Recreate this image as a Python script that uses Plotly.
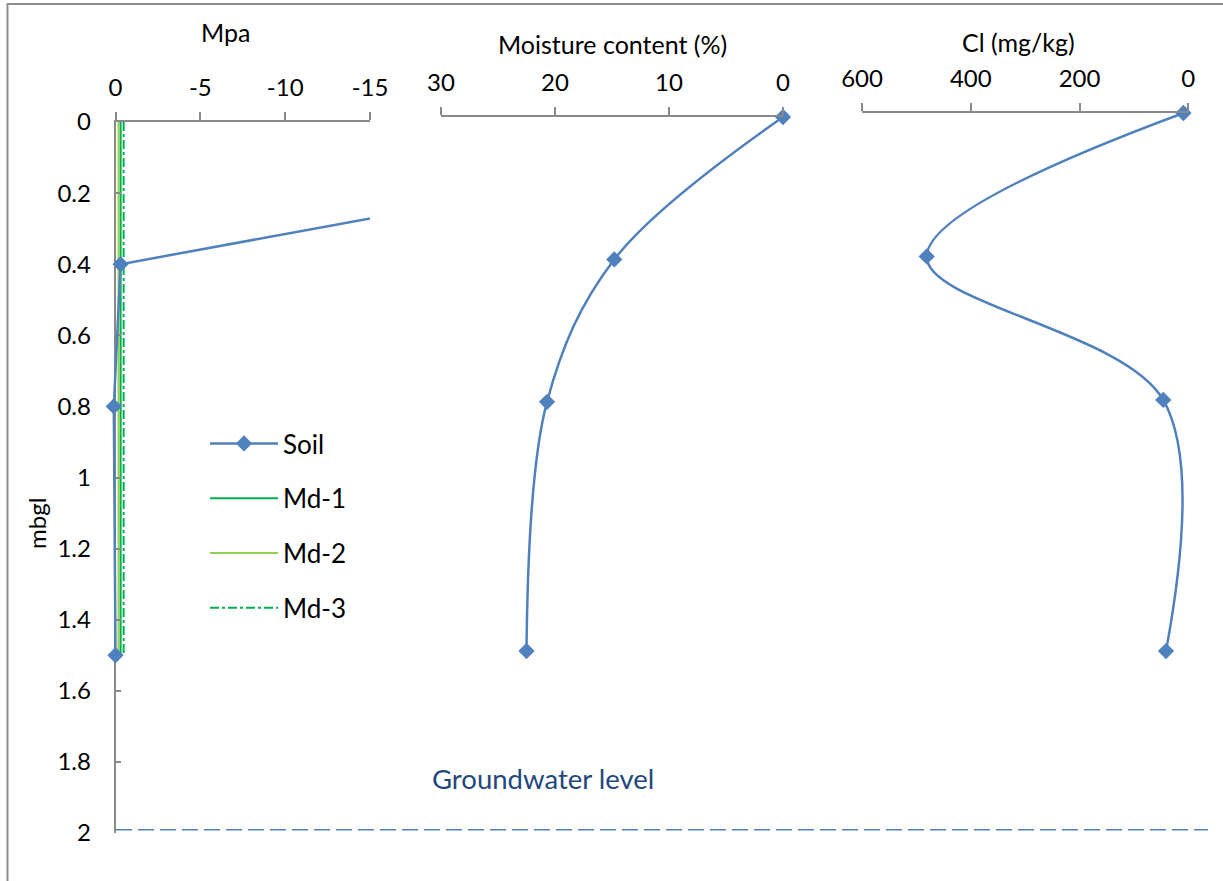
import plotly.graph_objects as go

# ---- data -------------------------------------------------------------
depth = [0.0, 0.4, 0.8, 1.5]                 # sampling depth, m below ground level
soil_mpa = [-46.0, -0.3, 0.1, 0.0]           # soil water potential, MPa
md1_mpa = [-0.3, -0.3, -0.3, -0.3]
md2_mpa = [-0.18, -0.18, -0.18, -0.18]
md3_mpa = [-0.48, -0.48, -0.48, -0.48]
moisture = [0.0, 14.8, 20.7, 22.5]           # moisture content, %
chloride = [9, 481, 46, 41]                  # Cl, mg/kg

mpa_ticks = [0, -5, -10, -15]
mpa_labels = ["0", "-5", "-10", "-15"]
moisture_ticks = [30, 20, 10, 0]
cl_ticks = [600, 400, 200, 0]
depth_ticks = [0, 0.2, 0.4, 0.6, 0.8, 1.0, 1.2, 1.4, 1.6, 1.8, 2.0]
depth_labels = ["0", "0.2", "0.4", "0.6", "0.8", "1", "1.2", "1.4", "1.6", "1.8", "2"]
groundwater_depth = 2.0

# ---- styling ------------------------------------------------------------
W, H = 1223, 881
FONT = "Lato"
AXIS_GREY = "#898989"
BLUE = "#4F81BD"
GREEN = "#00B050"
LIGHT_GREEN = "#92D050"
MARKER_SIZE = 12.5

# left panel geometry (pixels)
MPA_X0, MPA_X15 = 115.5, 370.0
MPA_PX_PER_UNIT = (MPA_X15 - MPA_X0) / 15.0
SOIL_PAD = 1.0   # extra MPa room on the wet side so the near-zero markers are not cut


def fx(px):
    return px / W


def fy(py):
    return 1 - py / H


fig = go.Figure()

# Soil water potential, on a hidden axis sharing the Mpa scale but reaching a bit past 0
fig.add_trace(go.Scatter(
    x=soil_mpa, y=depth, xaxis="x4", yaxis="y", mode="lines+markers",
    name="Soil", legendgroup="soil",
    line=dict(color=BLUE, width=2.5),
    marker=dict(symbol="diamond", size=MARKER_SIZE, color=BLUE)))

fig.add_trace(go.Scatter(
    x=md1_mpa, y=depth, xaxis="x", yaxis="y", mode="lines", name="Md-1",
    legendgroup="md1", line=dict(color=GREEN, width=2)))
fig.add_trace(go.Scatter(
    x=md2_mpa, y=depth, xaxis="x", yaxis="y", mode="lines", name="Md-2",
    legendgroup="md2", line=dict(color=LIGHT_GREEN, width=2)))
fig.add_trace(go.Scatter(
    x=md3_mpa, y=depth, xaxis="x", yaxis="y", mode="lines", name="Md-3",
    legendgroup="md3", line=dict(color=GREEN, width=2, dash="dashdot")))

# Moisture content profile
fig.add_trace(go.Scatter(
    x=moisture, y=depth, xaxis="x2", yaxis="y2", mode="lines+markers",
    line=dict(color=BLUE, width=2.5, shape="spline", smoothing=1),
    marker=dict(symbol="diamond", size=MARKER_SIZE, color=BLUE),
    cliponaxis=False, showlegend=False))

# Chloride profile
fig.add_trace(go.Scatter(
    x=chloride, y=depth, xaxis="x3", yaxis="y3", mode="lines+markers",
    line=dict(color=BLUE, width=2.5, shape="spline", smoothing=1),
    marker=dict(symbol="diamond", size=MARKER_SIZE, color=BLUE),
    cliponaxis=False, showlegend=False))

tickfont = dict(family=FONT, size=24, color="black")
top_axis = dict(
    side="top", showline=True, linecolor=AXIS_GREY, linewidth=1.5,
    ticks="outside", ticklen=8, tickwidth=1.5, tickcolor=AXIS_GREY,
    showgrid=False, zeroline=False, tickfont=tickfont, ticklabelstandoff=7,
    automargin=False, fixedrange=True)

fig.update_layout(
    template="none",
    width=W, height=H,
    margin=dict(l=0, r=0, t=0, b=0, pad=0, autoexpand=False),
    paper_bgcolor="white", plot_bgcolor="rgba(0,0,0,0)",
    font=dict(family=FONT, size=24, color="black"),
    xaxis=dict(top_axis, domain=[fx(MPA_X0), fx(MPA_X15)], range=[0, -15],
               tickvals=mpa_ticks, ticktext=mpa_labels, anchor="y"),
    xaxis4=dict(domain=[fx(MPA_X0 - SOIL_PAD * MPA_PX_PER_UNIT), fx(MPA_X15)],
                range=[SOIL_PAD, -15], anchor="y",
                visible=False, automargin=False, fixedrange=True),
    yaxis=dict(domain=[fy(833), fy(122)], range=[2, 0], anchor="x",
               tickvals=depth_ticks, ticktext=depth_labels,
               showline=True, linecolor=AXIS_GREY, linewidth=1.5,
               ticks="inside", ticklen=6, tickwidth=1.5, tickcolor=AXIS_GREY,
               showgrid=False, zeroline=False, tickfont=tickfont,
               ticklabelstandoff=18, automargin=False, fixedrange=True),
    xaxis2=dict(top_axis, domain=[fx(441), fx(783)], range=[30, 0],
                tickvals=moisture_ticks, anchor="y2"),
    yaxis2=dict(domain=[fy(117 + 2 * 356), fy(117)], range=[2, 0],
                anchor="x2", visible=False, automargin=False, fixedrange=True),
    xaxis3=dict(top_axis, domain=[fx(862), fx(1188.3)], range=[600, 0],
                tickvals=cl_ticks, anchor="y3"),
    yaxis3=dict(domain=[fy(113 + 2 * 358.7), fy(113)], range=[2, 0],
                anchor="x3", visible=False, automargin=False, fixedrange=True),
    legend=dict(x=fx(205), y=fy(420), xanchor="left", yanchor="top",
                font=dict(family=FONT, size=26, color="black"),
                bgcolor="rgba(0,0,0,0)", tracegroupgap=18, itemwidth=68),
    showlegend=True,
)

annot_font = dict(family=FONT, size=25, color="black")
for text, x, y in [("Mpa", 225, 32), ("Moisture content (%)", 612, 44),
                   ("Cl (mg/kg)", 1018, 42)]:
    fig.add_annotation(text=text, x=fx(x), y=fy(y), xref="paper", yref="paper",
                       xanchor="center", yanchor="middle", showarrow=False,
                       font=annot_font)
fig.add_annotation(text="mbgl", x=fx(36), y=fy(524), xref="paper", yref="paper",
                   xanchor="center", yanchor="middle", showarrow=False,
                   textangle=-90, font=dict(family=FONT, size=24, color="black"))
fig.add_annotation(text="Groundwater level", x=fx(543), y=fy(778), xref="paper",
                   yref="paper", xanchor="center", yanchor="middle", showarrow=False,
                   font=dict(family=FONT, size=27.5, color="#1F497D"))

# groundwater level
fig.add_shape(type="line", xref="paper", yref="y3",
              x0=fx(116), x1=fx(1208), y0=groundwater_depth, y1=groundwater_depth,
              line=dict(color=BLUE, width=3, dash="16px,6px"))
# chart frame
fig.add_shape(type="rect", xref="paper", yref="paper",
              x0=fx(7.5), x1=1.2, y0=fy(4), y1=-0.2,
              line=dict(color="#8C8C8C", width=2), layer="below")

fig.write_html("out.html")
